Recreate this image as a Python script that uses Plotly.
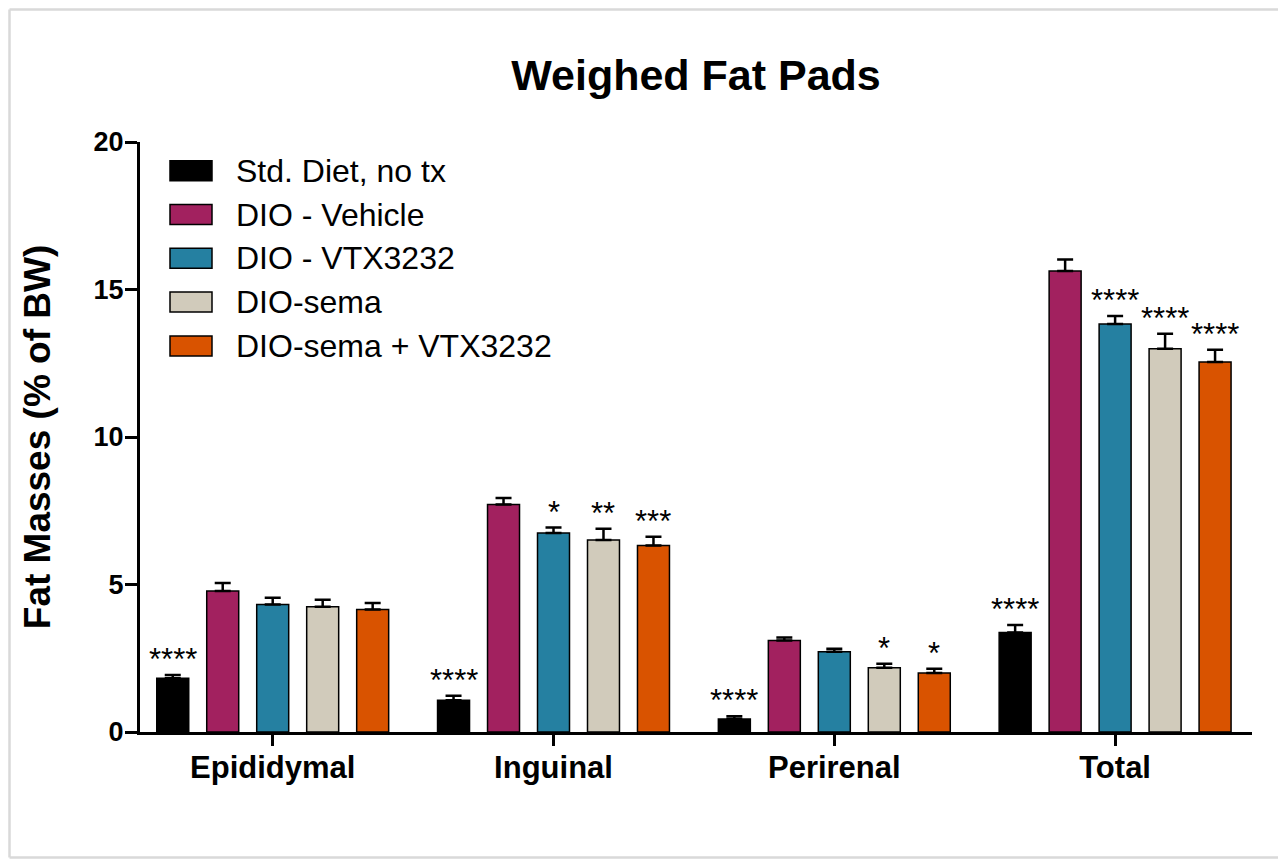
import plotly.graph_objects as go

categories = ["Epididymal", "Inguinal", "Perirenal", "Total"]
series_names = ["Std. Diet, no tx", "DIO - Vehicle", "DIO - VTX3232", "DIO-sema", "DIO-sema + VTX3232"]
colors = ["#000000", "#A2215F", "#2580A1", "#D1CBBB", "#D95300"]

std_diet = [1.82, 1.08, 0.44, 3.37]
dio_vehicle = [4.78, 7.71, 3.10, 15.63]
dio_vtx = [4.32, 6.75, 2.72, 13.83]
dio_sema = [4.25, 6.51, 2.18, 12.99]
dio_sema_vtx = [4.15, 6.32, 2.00, 12.54]

std_diet_err = [0.11, 0.15, 0.09, 0.26]
dio_vehicle_err = [0.27, 0.22, 0.10, 0.39]
dio_vtx_err = [0.23, 0.18, 0.10, 0.27]
dio_sema_err = [0.23, 0.38, 0.13, 0.51]
dio_sema_vtx_err = [0.22, 0.30, 0.14, 0.42]

std_diet_sig = ["****", "****", "****", "****"]
dio_vehicle_sig = ["", "", "", ""]
dio_vtx_sig = ["", "*", "", "****"]
dio_sema_sig = ["", "**", "*", "****"]
dio_sema_vtx_sig = ["", "***", "*", "****"]

values = [std_diet, dio_vehicle, dio_vtx, dio_sema, dio_sema_vtx]
errors = [std_diet_err, dio_vehicle_err, dio_vtx_err, dio_sema_err, dio_sema_vtx_err]
sigs = [std_diet_sig, dio_vehicle_sig, dio_vtx_sig, dio_sema_sig, dio_sema_vtx_sig]

FONT = "Arial, Liberation Sans, sans-serif"
OFF = 8  # page body margin
W, H = 1286 - 2 * OFF, 867 - 2 * OFF
ML, MT = 140 - OFF, 142 - OFF
PW, PH = 1112, 590
MR, MB = W - ML - PW, H - MT - PH
BARGAP = 0.11
BARGROUPGAP = 0.36


def px(fx):
    # figure pixel x -> paper
    return (fx - ML) / PW


def py(fy):
    # figure pixel y -> paper
    return (MT + PH - fy) / PH


fig = go.Figure()
for name, col, vals, errs in zip(series_names, colors, values, errors):
    fig.add_trace(go.Bar(
        name=name, x=categories, y=vals,
        marker=dict(color=col, line=dict(color="#000000", width=1.5)),
        error_y=dict(type="data", array=errs, arrayminus=[0] * len(errs), symmetric=False,
                     color="#000000", thickness=2.5, width=8),
        showlegend=False,
    ))

n = len(series_names)
slot = (1 - BARGAP) / n
annotations = []
for i, (vals, errs, sg) in enumerate(zip(values, errors, sigs)):
    for j, (v, e, s) in enumerate(zip(vals, errs, sg)):
        if s:
            annotations.append(dict(
                x=j + (i - (n - 1) / 2) * slot, y=v + e, xref="x", yref="y",
                text=s, showarrow=False, yanchor="bottom", xanchor="center", yshift=-4,
                font=dict(family=FONT, size=31, color="#000000"),
            ))

# custom legend (positions in figure pixels)
shapes = []
leg_x0, leg_x1, leg_text_x = 170 - OFF, 212 - OFF, 234 - OFF
leg_y0, leg_dy, sw_h = 170.7 - OFF, 43.8, 20
for k, (name, col) in enumerate(zip(series_names, colors)):
    cy = leg_y0 + k * leg_dy
    shapes.append(dict(
        type="rect", xref="paper", yref="paper",
        x0=px(leg_x0), x1=px(leg_x1),
        y0=py(cy + sw_h / 2), y1=py(cy - sw_h / 2),
        fillcolor=col, line=dict(color="#000000", width=1.5),
    ))
    annotations.append(dict(
        x=px(leg_text_x), y=py(cy), xref="paper", yref="paper",
        text=name, showarrow=False, xanchor="left", yanchor="middle",
        font=dict(family=FONT, size=32, color="#000000"),
    ))

# light outer frame: left, top and bottom edges, kept inside the figure
frame = dict(color="#D9D9D9", width=2.5)
fl, ft, fb, fr = px(1.5), py(1.5), py(H - 1.5), px(W)
for x0, y0, x1, y1 in [(fl, ft, fl, fb), (fl, ft, fr, ft), (fl, fb, fr, fb)]:
    shapes.append(dict(type="line", xref="paper", yref="paper", x0=x0, y0=y0, x1=x1, y1=y1,
                       line=frame, layer="below"))

fig.update_layout(
    width=W, height=H,
    margin=dict(l=ML, r=MR, t=MT, b=MB, autoexpand=False),
    paper_bgcolor="#FFFFFF", plot_bgcolor="#FFFFFF",
    barmode="group", bargap=BARGAP, bargroupgap=BARGROUPGAP,
    title=dict(text="Weighed Fat Pads", x=0.5, xref="paper", y=1 - (75 - OFF) / H, yref="container",
               xanchor="center", yanchor="middle",
               font=dict(family=FONT, size=43, color="#000000", weight="bold")),
    font=dict(family=FONT, color="#000000"),
    annotations=annotations,
    shapes=shapes,
    showlegend=False,
)
fig.update_xaxes(
    type="category", range=[-0.4726, 3.4875],
    showline=True, linecolor="#000000", linewidth=3,
    ticks="outside", ticklen=11, tickwidth=3, tickcolor="#000000",
    tickfont=dict(family=FONT, size=31, color="#000000", weight="bold"),
    ticklabelstandoff=-5,
    showgrid=False, zeroline=False,
)
fig.update_yaxes(
    range=[0, 20], tickvals=[0, 5, 10, 15, 20],
    showline=True, linecolor="#000000", linewidth=3,
    ticks="outside", ticklen=12, tickwidth=3, tickcolor="#000000",
    tickfont=dict(family=FONT, size=27, color="#000000", weight="bold"),
    ticklabelstandoff=-4,
    showgrid=False, zeroline=False,
    title=dict(text="Fat Masses (% of BW)", standoff=32,
               font=dict(family=FONT, size=37, color="#000000", weight="bold")),
)

fig.write_html("out.html")
